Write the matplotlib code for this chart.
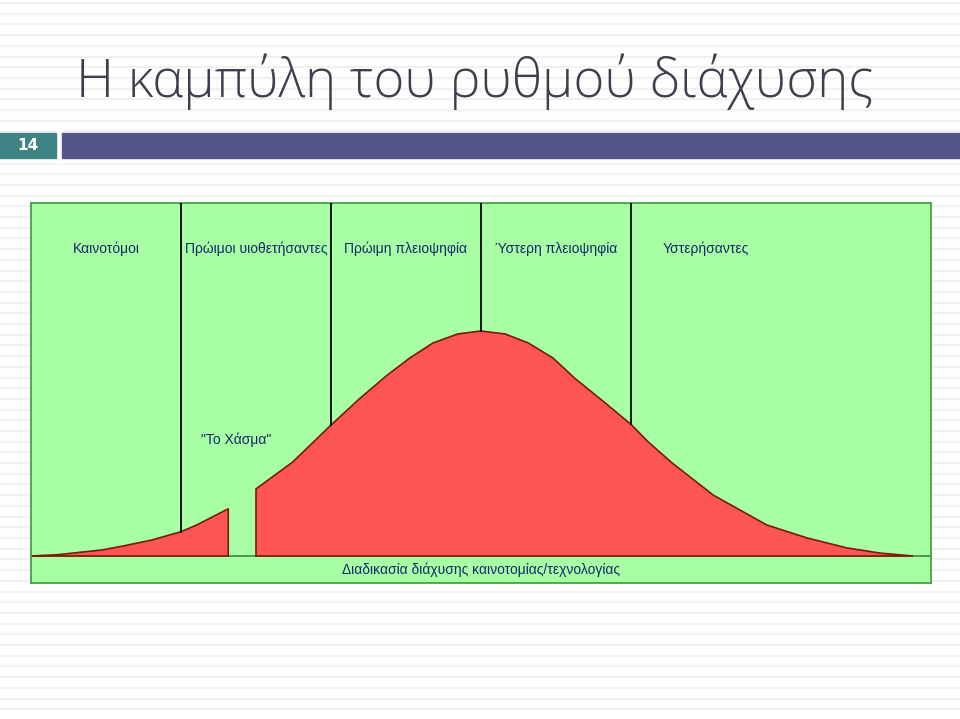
import numpy as np
import matplotlib.pyplot as plt
from matplotlib.patches import Rectangle

# adopter categories (columns) and their label positions
categories = ['Καινοτόμοι', 'Πρώιμοι υιοθετήσαντες', 'Πρώιμη πλειοψηφία',
              'Ύστερη πλειοψηφία', 'Υστερήσαντες']
category_x = [1, 3, 5, 7, 9]
dividers = [2, 4, 6, 8]

# diffusion curve, split by the chasm
early_x = [0, 0.36, 0.95, 1.25, 1.61, 2.0, 2.21, 2.63]
early_y = [0, 0.6, 2.7, 4.6, 7.1, 10.8, 13.8, 21.0]
main_x = [3.0, 3.49, 4.0, 4.39, 4.75, 5.05, 5.36, 5.69, 6.0, 6.32, 6.63,
          6.96, 7.25, 7.61, 8.0, 8.23, 8.55, 9.1, 9.81, 10.35, 10.88, 11.32, 11.76]
main_y = [29.8, 41.8, 58.2, 70.2, 80.4, 88.0, 94.7, 98.7, 100, 98.7, 94.7,
          88.0, 79.0, 69.3, 58.5, 50.7, 41.3, 27.0, 13.8, 8.0, 3.6, 1.3, 0]

title = 'Η καμπύλη του ρυθμού διάχυσης'
slide_no = '14'
chasm_label = '"Το Χάσμα"'
x_label = 'Διαδικασία διάχυσης καινοτομίας/τεχνολογίας'

green = '#a9ffa3'
red = '#ff5555'
dark_red = '#7a1a0a'
navy = '#0e2a6a'

fig = plt.figure(figsize=(9.6, 7.19), dpi=100)

# slide background in pixel coordinates
bg = fig.add_axes([0, 0, 1, 1])
bg.set_xlim(0, 960)
bg.set_ylim(719, 0)
bg.axis('off')
for y in np.arange(3, 719, 10.7):
    bg.axhline(y, color='#f1f1f1', lw=1.6, zorder=0)
bg.add_patch(Rectangle((0, 133), 56, 25, color='#3f8484', zorder=2))
bg.add_patch(Rectangle((62, 133), 898, 25, color='#55558a', zorder=2))
bg.add_patch(Rectangle((56, 128), 6, 35, color='white', zorder=1))
bg.text(28, 146, slide_no, color='white', fontsize=11, fontweight='bold',
        ha='center', va='center', family='DejaVu Sans', zorder=3)
bg.text(475, 97, title, color='#3e3e4e', fontsize=38, fontweight='light',
        ha='center', va='baseline', family='Open Sans', zorder=3)

# chart
ax = fig.add_axes([31 / 960, 1 - 583 / 719, 900 / 960, 380 / 719])
ax.set_xlim(0, 12)
ax.set_ylim(-12, 156.9)
ax.set_facecolor(green)
ax.set_xticks([])
ax.set_yticks([])
for s in ax.spines.values():
    s.set_color('#3a9a3a')
    s.set_linewidth(1.2)

ax.axhline(0, color='#3a8a3a', lw=1.2, zorder=1)

for xs, ys in [(early_x, early_y), (main_x, main_y)]:
    px = [xs[0]] + xs + [xs[-1]]
    py = [0] + ys + [0]
    ax.fill(px, py, facecolor=red, edgecolor=dark_red, lw=1.2, zorder=2)

# dividers run from the top of the box down to the curve
curve_x = early_x + main_x
curve_y = early_y + main_y
for d in dividers:
    ax.plot([d, d], [156.9, np.interp(d, curve_x, curve_y)],
            color='black', lw=1.3, zorder=3)

for label, cx in zip(categories, category_x):
    ax.text(cx, 136.5, label, ha='center', va='center', fontsize=10,
            color=navy, family='Liberation Sans')

ax.text(2.73, 51.6, chasm_label, ha='center', va='center', fontsize=10,
        color=navy, family='Liberation Sans')
ax.text(6.0, -6.0, x_label, ha='center', va='center', fontsize=10,
        color=navy, family='Liberation Sans')

fig.savefig('out.png', dpi=100)
